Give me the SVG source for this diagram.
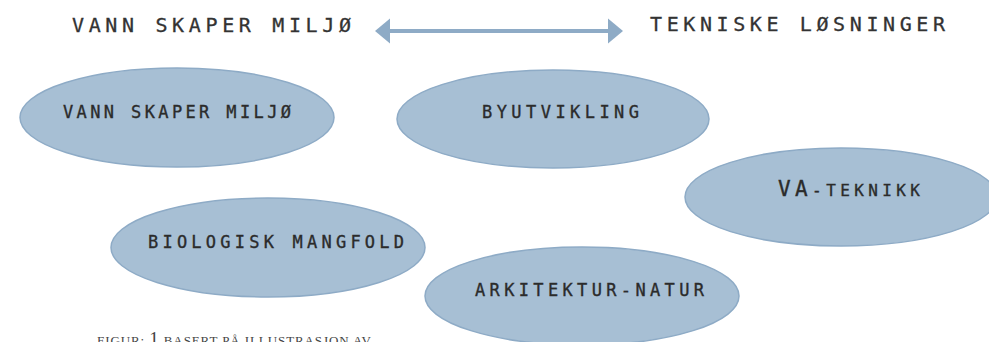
<svg xmlns="http://www.w3.org/2000/svg" width="989" height="342" viewBox="0 0 989 342">
<style>
.bg{fill:#ffffff}
.node ellipse{fill:#a7bfd4;stroke:#8eabc6;stroke-width:1.5}
.lbl{font-family:"DejaVu Sans Mono","Liberation Mono",monospace;fill:#2b2b2b;stroke:#2b2b2b;stroke-width:0.35;font-size:17px}
.title{font-family:"DejaVu Sans Mono","Liberation Mono",monospace;fill:#333333;stroke:#333333;stroke-width:0.3;font-size:20px}
.conn{stroke:#8eabc6;stroke-width:4;fill:none}
.head{fill:#8eabc6}
.cap{font-family:"Liberation Serif","Times New Roman",serif;fill:#444444;font-size:13px}
</style>
<rect class="bg" x="0" y="0" width="989" height="342"/>
<g id="title-left"><text class="title" x="72" y="32" textLength="279" lengthAdjust="spacing">VANN SKAPER MILJØ</text></g>
<g id="title-right"><text class="title" x="650" y="31" textLength="295" lengthAdjust="spacing">TEKNISKE LØSNINGER</text></g>
<g id="connectors">
<line class="conn" x1="388" y1="31" x2="610" y2="31"/>
<polygon class="head" points="375,31 390,18.5 390,43.5"/>
<polygon class="head" points="623,31 608,18.5 608,43.5"/>
</g>
<g id="node-vann" class="node">
<ellipse cx="177" cy="117.5" rx="157" ry="49.5"/>
<text class="lbl" x="63" y="118" textLength="228" lengthAdjust="spacing">VANN SKAPER MILJØ</text>
</g>
<g id="node-byutvikling" class="node">
<ellipse cx="553" cy="119" rx="156" ry="49"/>
<text class="lbl" x="482" y="118" textLength="157" lengthAdjust="spacing">BYUTVIKLING</text>
</g>
<g id="node-vateknikk" class="node">
<ellipse cx="841" cy="197" rx="156" ry="49"/>
<text class="lbl" x="778" y="196" textLength="142" lengthAdjust="spacing"><tspan font-size="21">VA</tspan><tspan font-size="16">-TEKNIKK</tspan></text>
</g>
<g id="node-biologisk" class="node">
<ellipse cx="268" cy="247.5" rx="157" ry="49.5"/>
<text class="lbl" x="148" y="248" textLength="256" lengthAdjust="spacing">BIOLOGISK MANGFOLD</text>
</g>
<g id="node-arkitektur" class="node">
<ellipse cx="582" cy="296" rx="157" ry="49"/>
<text class="lbl" x="475" y="296" textLength="229" lengthAdjust="spacing">ARKITEKTUR-NATUR</text>
</g>
<g id="caption"><text class="cap" x="97" y="345" textLength="274" lengthAdjust="spacing">FIGUR: <tspan font-size="19">1</tspan> BASERT PÅ ILLUSTRASJON AV</text></g>
</svg>
